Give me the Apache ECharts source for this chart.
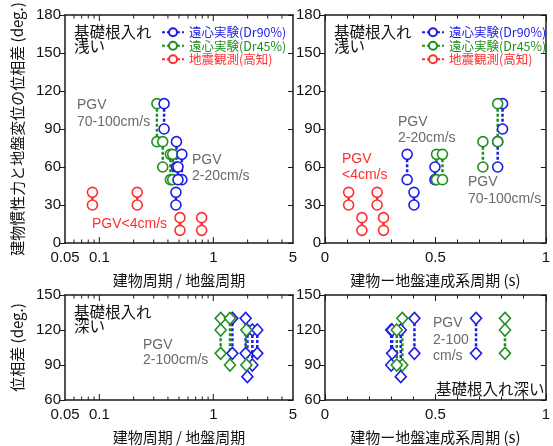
<!DOCTYPE html>
<html><head><meta charset="utf-8">
<script src="https://cdn.jsdelivr.net/npm/echarts@6/dist/echarts.min.js"></script>
<style>html,body{margin:0;padding:0;background:#fff}#c{width:553px;height:446px}</style>
</head><body><div id="c"></div>
<script>
// ---------- data ----------
const seriesNames = ['遠心実験(Dr90%)', '遠心実験(Dr45%)', '地震観測(高知)'];
// top-left: period ratio (log) vs phase difference, shallow embedment
const tlBlueX = [0.37, 0.475, 0.47, 0.53, 0.49];
const tlBlueY = [[110, 90], [80, 60], [40, 30], [70, 50], [60, 50]];
const tlGreenX = [0.32, 0.36, 0.42, 0.44];
const tlGreenY = [[110, 80], [80, 60], [70, 50], [70, 50]];
const tlRedX = [0.087, 0.215, 0.51, 0.79];
const tlRedY = [[40, 30], [40, 30], [20, 10], [20, 10]];
// top-right: coupled period (s) vs phase difference, shallow embedment
const trBlueX = [0.804, 0.782, 0.403, 0.372, 0.498];
const trBlueY = [[110, 90], [80, 60], [40, 30], [70, 50], [60, 50]];
const trGreenX = [0.782, 0.715, 0.505, 0.532];
const trGreenY = [[110, 80], [80, 60], [70, 50], [70, 50]];
const trRedX = [0.107, 0.236, 0.167, 0.265];
const trRedY = [[40, 30], [40, 30], [20, 10], [20, 10]];
// bottom-left: period ratio (log), deep embedment
const blBlueX = [1.47, 1.92, 1.99, 2.2, 2.43];
const blBlueY = [[130, 100], [130, 100], [120, 80], [120, 90], [120, 100]];
const blGreenX = [1.16, 1.40, 1.95];
const blGreenY = [[130, 120, 100], [130, 90], [120, 90]];
// bottom-right: coupled period (s), deep embedment
const brBlueX = [0.405, 0.684, 0.343, 0.300, 0.304];
const brBlueY = [[130, 100], [130, 100], [120, 80], [120, 90], [120, 100]];
const brGreenX = [0.815, 0.35, 0.325];
const brGreenY = [[130, 120, 100], [130, 90], [120, 90]];
// axis ticks
const logMinorTicks = [0.06, 0.07, 0.08, 0.09, 0.2, 0.3, 0.4, 0.5, 0.6, 0.7, 0.8, 0.9, 2, 3, 4];
const logMajorTicks = [0.1, 1];

// ---------- styles ----------
const BLUE = '#1c1ce8', GREEN = '#1f9020', RED = '#ff2e2e', GRAY = '#6a6a6a';
const LATIN = "'Liberation Sans', Arial, 'Noto Sans CJK JP', sans-serif";
const JP = "'Noto Sans CJK JP', 'Liberation Sans', sans-serif";
const AXC = '#1a1a1a';

const grids = [
  {left: 65, top: 15, width: 228, height: 228},
  {left: 325, top: 15, width: 233, height: 228},
  {left: 65, top: 295, width: 228, height: 112},
  {left: 325, top: 295, width: 233, height: 112}
];

function xBottomLog(g, name) {
  return {gridIndex: g, type: 'log', logBase: 10, min: 0.05, max: 5, position: 'bottom',
    axisLine: {onZero: false, lineStyle: {color: AXC, width: 1.5}},
    axisTick: {show: false}, splitLine: {show: false},
    axisLabel: {fontSize: 15, color: '#111', fontFamily: LATIN, margin: 7, formatter: v => String(+v.toPrecision(3))},
    name: name, nameLocation: 'middle', nameGap: 30,
    nameTextStyle: {fontSize: 15, color: '#111', fontFamily: JP}};
}
function xTopLog(g) {
  return {gridIndex: g, type: 'log', logBase: 10, min: 0.05, max: 5, position: 'top',
    axisLine: {onZero: false, lineStyle: {color: AXC, width: 1.5}},
    axisTick: {show: false}, axisLabel: {show: false}, splitLine: {show: false}};
}
function xBottomLin(g, name) {
  return {gridIndex: g, type: 'value', min: 0, max: 1, interval: 0.5, position: 'bottom',
    axisLine: {onZero: false, lineStyle: {color: AXC, width: 1.5}},
    axisTick: {inside: true, length: 6, lineStyle: {color: AXC}},
    minorTick: {show: true, splitNumber: 5, length: 3.5, lineStyle: {color: AXC}},
    splitLine: {show: false},
    axisLabel: {fontSize: 15, color: '#111', fontFamily: LATIN, margin: 7, showMaxLabel: true},
    name: name, nameLocation: 'middle', nameGap: 30,
    nameTextStyle: {fontSize: 15, color: '#111', fontFamily: JP}};
}
function xTopLin(g) {
  return {gridIndex: g, type: 'value', min: 0, max: 1, interval: 0.5, position: 'top',
    axisLine: {onZero: false, lineStyle: {color: AXC, width: 1.5}},
    axisTick: {inside: true, length: 6, lineStyle: {color: AXC}},
    minorTick: {show: true, splitNumber: 5, length: 3.5, lineStyle: {color: AXC}},
    splitLine: {show: false}, axisLabel: {show: false}};
}
function yLeft(g, min, max, name, showName) {
  const a = {gridIndex: g, type: 'value', min: min, max: max, interval: 30, position: 'left',
    axisLine: {onZero: false, lineStyle: {color: AXC, width: 1.5}},
    axisTick: {inside: false, length: 5, lineStyle: {color: AXC}},
    splitLine: {show: false},
    axisLabel: {fontSize: 15, color: '#111', fontFamily: LATIN, margin: 4}};
  if (showName) {
    Object.assign(a, {name: name, nameLocation: 'middle', nameGap: 40, nameRotate: 90,
      nameTextStyle: {fontSize: 15, color: '#111', fontFamily: JP}});
  }
  return a;
}
function yRight(g, min, max) {
  return {gridIndex: g, type: 'value', min: min, max: max, interval: 30, position: 'right',
    axisLine: {onZero: false, lineStyle: {color: AXC, width: 1.5}},
    axisTick: {inside: true, length: 5, lineStyle: {color: AXC}},
    splitLine: {show: false}, axisLabel: {show: false}};
}

const xAxes = [
  xBottomLog(0, '建物周期 / 地盤周期'), xTopLog(0),
  xBottomLin(1, '建物ー地盤連成系周期 (s)'), xTopLin(1),
  xBottomLog(2, '建物周期 / 地盤周期'), xTopLog(2),
  xBottomLin(3, '建物ー地盤連成系周期 (s)'), xTopLin(3)
];
const yAxes = [
  yLeft(0, 0, 180, '建物慣性力と地盤変位の位相差 (deg.)', true), yRight(0, 0, 180),
  yLeft(1, 0, 180, '', false), yRight(1, 0, 180),
  yLeft(2, 60, 150, '位相差 (deg.)', true), yRight(2, 60, 150),
  yLeft(3, 60, 150, '', false), yRight(3, 60, 150)
];

const series = [];
function addGroups(name, color, xs, ys, axisIdx, symbol) {
  xs.forEach((x, i) => {
    const diamond = symbol === 'diamond';
    series.push({
      type: 'line', name: name, xAxisIndex: axisIdx, yAxisIndex: axisIdx,
      data: ys[i].map(y => [x, y]),
      symbol: diamond ? 'diamond' : 'circle',
      symbolSize: diamond ? [11, 12] : 10,
      showSymbol: true,
      lineStyle: {color: color, width: 2.5, type: [3, 2]},
      itemStyle: {color: '#fff', borderColor: color, borderWidth: 1.6},
      emphasis: {disabled: true}, animation: false, silent: true, z: 3
    });
  });
}
addGroups(seriesNames[2], RED, tlRedX, tlRedY, 0);
addGroups(seriesNames[1], GREEN, tlGreenX, tlGreenY, 0);
addGroups(seriesNames[0], BLUE, tlBlueX, tlBlueY, 0);
addGroups(seriesNames[2], RED, trRedX, trRedY, 2);
addGroups(seriesNames[0], BLUE, trBlueX, trBlueY, 2);
addGroups(seriesNames[1], GREEN, trGreenX, trGreenY, 2);
addGroups('deep-Dr90', BLUE, blBlueX, blBlueY, 4, 'diamond');
addGroups('deep-Dr45', GREEN, blGreenX, blGreenY, 4, 'diamond');
addGroups('deep-Dr90', BLUE, brBlueX, brBlueY, 6, 'diamond');
addGroups('deep-Dr45', GREEN, brGreenX, brGreenY, 6, 'diamond');

// log-axis ticks (major + minor) at bottom and top edges, placed via the axis scale
function logTickSeries(axisIdx, yRef) {
  const data = logMinorTicks.map(v => [v, yRef, 0]).concat(logMajorTicks.map(v => [v, yRef, 1]));
  series.push({
    type: 'custom', xAxisIndex: axisIdx, yAxisIndex: axisIdx, clip: false, silent: true,
    animation: false, data: data, encode: {x: 0, y: 1}, z: 5,
    renderItem: function (params, api) {
      const x = api.coord([api.value(0), api.value(1)])[0];
      const cs = params.coordSys;
      const len = api.value(2) ? 6 : 3.5;
      const st = {stroke: AXC, lineWidth: 1};
      return {type: 'group', children: [
        {type: 'line', shape: {x1: x, y1: cs.y + cs.height, x2: x, y2: cs.y + cs.height - len}, style: st},
        {type: 'line', shape: {x1: x, y1: cs.y, x2: x, y2: cs.y + len}, style: st}
      ]};
    }
  });
}
logTickSeries(0, 90);
logTickSeries(4, 100);

function legendCfg(left) {
  return {left: left, top: 26, orient: 'vertical', itemWidth: 22, itemHeight: 10, itemGap: 1,
    selectedMode: false, padding: 0,
    textStyle: {fontSize: 12.5, fontFamily: JP},
    data: [
      {name: seriesNames[0], textStyle: {color: BLUE}},
      {name: seriesNames[1], textStyle: {color: GREEN}},
      {name: seriesNames[2], textStyle: {color: RED}}
    ]};
}

function txt(x, y, s, color, size) {
  return {type: 'text', left: x, top: y - size * 0.62, silent: true,
    style: {text: s, fill: color, fontSize: size, fontFamily: s.match(/[\u3000-\u9fff]/) ? JP : LATIN}};
}
const graphics = [
  txt(74, 34, '基礎根入れ', '#111', 15.5), txt(74, 48, '浅い', '#111', 15.5),
  txt(334, 34, '基礎根入れ', '#111', 15.5), txt(334, 48, '浅い', '#111', 15.5),
  txt(74, 314, '基礎根入れ', '#111', 15.5), txt(74, 328, '深い', '#111', 15.5),
  txt(436, 391, '基礎根入れ深い', '#111', 15.5),
  txt(77, 107, 'PGV', GRAY, 14), txt(77, 124, '70-100cm/s', GRAY, 14),
  txt(192, 162, 'PGV', GRAY, 14), txt(192, 178, '2-20cm/s', GRAY, 14),
  txt(92, 226, 'PGV<4cm/s', RED, 14),
  txt(398, 124, 'PGV', GRAY, 14), txt(398, 140, '2-20cm/s', GRAY, 14),
  txt(342, 161, 'PGV', RED, 14), txt(342, 177, '<4cm/s', RED, 14),
  txt(468, 184, 'PGV', GRAY, 14), txt(468, 201, '70-100cm/s', GRAY, 14),
  txt(143, 347, 'PGV', GRAY, 14), txt(143, 362, '2-100cm/s', GRAY, 14),
  txt(433, 325, 'PGV', GRAY, 14), txt(433, 342, '2-100', GRAY, 14), txt(433, 358, 'cm/s', GRAY, 14)
];

const chart = echarts.init(document.getElementById('c'), null, {renderer: 'canvas'});
chart.setOption({
  backgroundColor: '#fff',
  animation: false,
  grid: grids,
  xAxis: xAxes,
  yAxis: yAxes,
  legend: [legendCfg(161), legendCfg(421)],
  series: series,
  graphic: graphics
});
</script></body></html>
